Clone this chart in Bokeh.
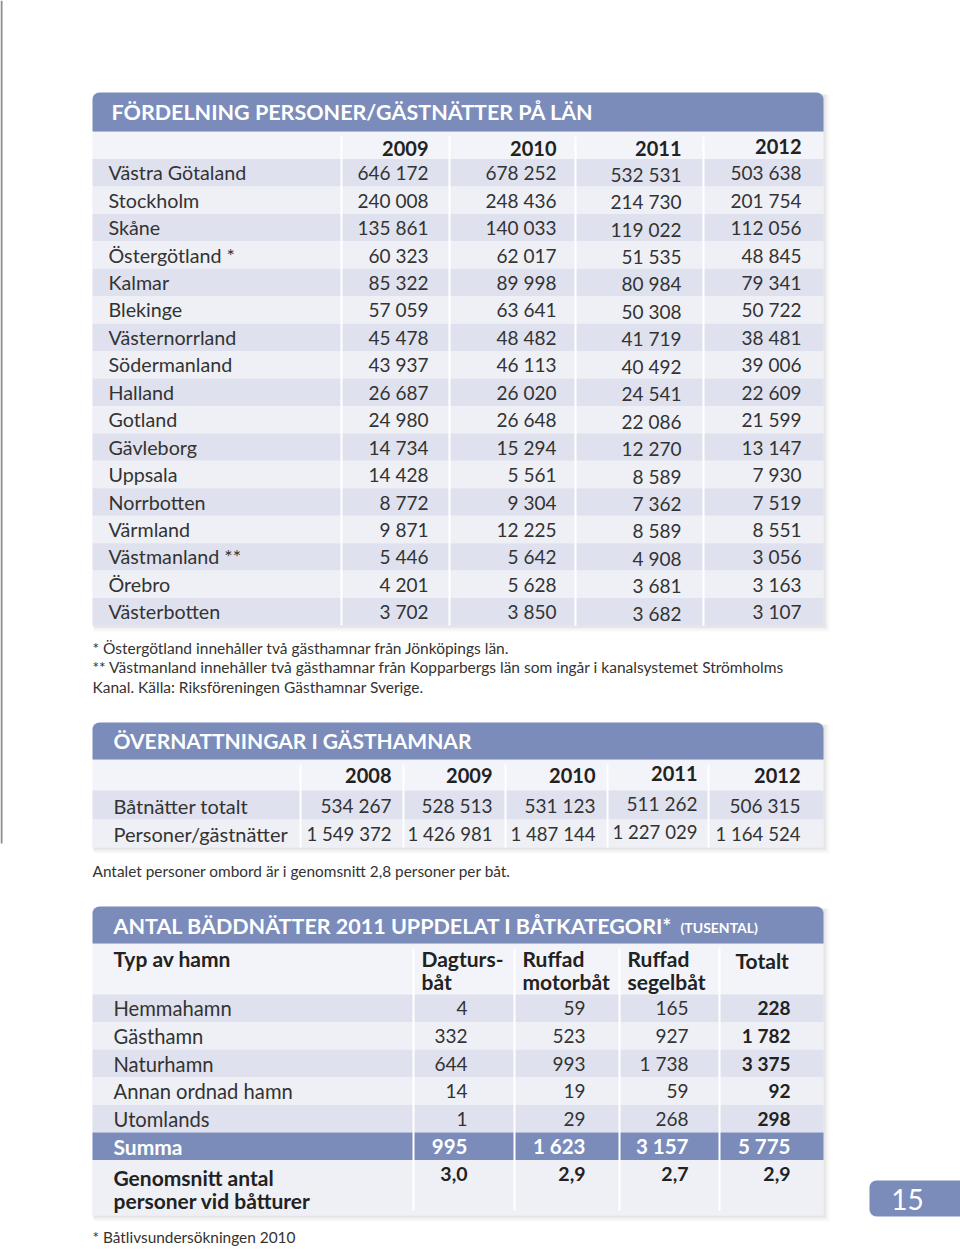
from bokeh.plotting import figure
from bokeh.models import Range1d
from bokeh.core.properties import value
from bokeh.embed import file_html
from bokeh.resources import INLINE

# ---------------- data ----------------
title1 = "FÖRDELNING PERSONER/GÄSTNÄTTER PÅ LÄN"
years1 = ["2009", "2010", "2011", "2012"]
regions = ["Västra Götaland", "Stockholm", "Skåne", "Östergötland *", "Kalmar", "Blekinge",
           "Västernorrland", "Södermanland", "Halland", "Gotland", "Gävleborg", "Uppsala",
           "Norrbotten", "Värmland", "Västmanland **", "Örebro", "Västerbotten"]
v2009 = [646172, 240008, 135861, 60323, 85322, 57059, 45478, 43937, 26687, 24980, 14734, 14428, 8772, 9871, 5446, 4201, 3702]
v2010 = [678252, 248436, 140033, 62017, 89998, 63641, 48482, 46113, 26020, 26648, 15294, 5561, 9304, 12225, 5642, 5628, 3850]
v2011 = [532531, 214730, 119022, 51535, 80984, 50308, 41719, 40492, 24541, 22086, 12270, 8589, 7362, 8589, 4908, 3681, 3682]
v2012 = [503638, 201754, 112056, 48845, 79341, 50722, 38481, 39006, 22609, 21599, 13147, 7930, 7519, 8551, 3056, 3163, 3107]
notes1 = ["* Östergötland innehåller två gästhamnar från Jönköpings län.",
          "** Västmanland innehåller två gästhamnar från Kopparbergs län som ingår i kanalsystemet Strömholms",
          "Kanal.  Källa: Riksföreningen Gästhamnar Sverige."]

title2 = "ÖVERNATTNINGAR I GÄSTHAMNAR"
years2 = ["2008", "2009", "2010", "2011", "2012"]
rows2 = ["Båtnätter totalt", "Personer/gästnätter"]
batnatter = [534267, 528513, 531123, 511262, 506315]
personer = [1549372, 1426981, 1487144, 1227029, 1164524]
note2 = "Antalet personer ombord är i genomsnitt 2,8 personer per båt."

title3 = "ANTAL BÄDDNÄTTER 2011 UPPDELAT I BÅTKATEGORI*"
title3_small = "(TUSENTAL)"
head3_first = "Typ av hamn"
head3 = [("Dagturs-", "båt"), ("Ruffad", "motorbåt"), ("Ruffad", "segelbåt"), ("Totalt", "")]
types3 = ["Hemmahamn", "Gästhamn", "Naturhamn", "Annan ordnad hamn", "Utomlands"]
dagtur = [4, 332, 644, 14, 1]
motor = [59, 523, 993, 19, 29]
segel = [165, 927, 1738, 59, 268]
totalt = [228, 1782, 3375, 92, 298]
summa_label = "Summa"
summa = [995, 1623, 3157, 5775]
snitt_label = ["Genomsnitt antal", "personer vid båtturer"]
snitt = ["3,0", "2,9", "2,7", "2,9"]
note3 = "* Båtlivsundersökningen 2010"
page_no = "15"

# ---------------- style ----------------
FONT = "Lato"
BLUE = "#7b8cbb"
DARK_ROW = "#dfe2ee"
LIGHT_ROW = "#eef0f6"
HEAD_ROW = "#f3f4f9"
TXT = "#333333"
BTXT = "#222222"


def fmt(v):
    return f"{v:,}".replace(",", " ")


W, H = 960, 1251
p = figure(width=W, height=H, x_range=Range1d(0, W), y_range=Range1d(H, 0),
           output_backend="svg", toolbar_location=None, min_border=0,
           x_axis_location=None, y_axis_location=None)
p.grid.visible = False
p.outline_line_color = None
p.background_fill_color = "white"
p.border_fill_color = "white"


def txt(xs, ys, texts, size, color=TXT, align="left", bold=False, baseline="middle"):
    p.text(x=xs, y=ys, text=texts, text_font=value(FONT), text_font_size=value(f"{size}px"),
           text_font_style="bold" if bold else "normal", text_align=align,
           text_baseline=baseline, text_color=color)


def shadow(l, r, t, b):
    for d, a in [(6, 0.025), (4, 0.035), (2, 0.05)]:
        p.quad(left=l + 1, right=r + d, top=t + 2, bottom=b + d, fill_color="black",
               fill_alpha=a, line_color=None)


def panel(l, r, band_t, band_b, body_b):
    shadow(l, r, band_t, body_b)
    p.quad(left=l, right=r, top=band_b, bottom=body_b, fill_color=HEAD_ROW, line_color=None)
    p.quad(left=l, right=r, top=band_t, bottom=band_b, fill_color=BLUE, line_color=None,
           border_radius=(7, 7, 0, 0))


# scanned page edge on the left
p.segment(x0=[1], x1=[1], y0=[0], y1=[843], line_color="#8d8d86", line_width=2)

L, R = 92, 823

# ---------------- table 1 ----------------
panel(L, R, 92, 131, 625)
rh1, top1 = 27.44, 158.5
tops = [top1 + i * rh1 for i in range(len(regions))]
p.quad(left=[L] * len(tops), right=[R] * len(tops), top=tops, bottom=[t + rh1 for t in tops],
       fill_color=[DARK_ROW if i % 2 == 0 else LIGHT_ROW for i in range(len(tops))], line_color=None)
seps1 = [341, 449, 575, 703]
p.segment(x0=seps1, x1=seps1, y0=[136] * 4, y1=[625] * 4, line_color="white", line_width=2)
txt([111], [111], [title1], 21.5, color="white", bold=True)
rights1 = [428, 556, 681, 801]
txt(rights1, [148, 148, 148, 146], years1, 20, color=BTXT, align="right", bold=True)
centers1 = [t + rh1 / 2 for t in tops]
txt([108] * len(regions), centers1, regions, 19.7)
for k, (col, dy) in enumerate(zip([v2009, v2010, v2011, v2012], [0, 0, 1.5, 0])):
    txt([rights1[k]] * len(col), [c + dy for c in centers1], [fmt(v) for v in col], 19, align="right")
txt([92] * 3, [647, 666, 686], notes1, 15.5)

# ---------------- table 2 ----------------
panel(L, R, 722, 759, 847)
p.quad(left=[L, L], right=[R, R], top=[790, 819], bottom=[819, 847],
       fill_color=[DARK_ROW, LIGHT_ROW], line_color=None)
seps2 = [300, 403, 505, 607, 708]
p.segment(x0=seps2, x1=seps2, y0=[764] * 5, y1=[847] * 5, line_color="white", line_width=2)
txt([113], [740], [title2], 21, color="white", bold=True)
rights2 = [391, 492, 595, 697, 800]
dy2 = [0, 0, 0, -2, 0]
txt(rights2, [775 + d for d in dy2], years2, 20, color=BTXT, align="right", bold=True)
txt([113, 113], [805, 833], rows2, 20)
txt(rights2, [805 + d for d in dy2], [fmt(v) for v in batnatter], 19, align="right")
txt(rights2, [833 + d for d in dy2], [fmt(v) for v in personer], 18.6, align="right")
txt([92], [870], [note2], 15.4)

# ---------------- table 3 ----------------
panel(L, R, 906, 943, 1215)
rh3, top3 = 27.6, 994
tops3 = [top3 + i * rh3 for i in range(len(types3))]
p.quad(left=[L] * 5, right=[R] * 5, top=tops3, bottom=[t + rh3 for t in tops3],
       fill_color=[DARK_ROW if i % 2 == 0 else LIGHT_ROW for i in range(5)], line_color=None)
sum_top = top3 + 5 * rh3
p.quad(left=[L], right=[R], top=[sum_top], bottom=[sum_top + rh3], fill_color=BLUE, line_color=None)
p.quad(left=[L], right=[R], top=[sum_top + rh3], bottom=[1215], fill_color=LIGHT_ROW, line_color=None)
seps3 = [413, 514, 619, 719]
p.segment(x0=seps3, x1=seps3, y0=[948] * 4, y1=[1210] * 4, line_color="white", line_width=2)
txt([113], [925], [title3], 21.5, color="white", bold=True)
txt([680], [927], [title3_small], 14, color="white", bold=True)
txt([113], [958], [head3_first], 21, color=BTXT, bold=True)
hx = [421, 522, 627, 735]
txt(hx, [958, 958, 958, 960], [h[0] for h in head3], 21, color=BTXT, bold=True)
txt(hx, [981] * 4, [h[1] for h in head3], 21, color=BTXT, bold=True)
centers3 = [t + rh3 / 2 for t in tops3]
txt([113] * 5, centers3, types3, 20.2)
rights3 = [467, 585, 688, 790]
for k, col in enumerate([dagtur, motor, segel]):
    txt([rights3[k]] * 5, centers3, [fmt(v) for v in col], 19, align="right")
txt([rights3[3]] * 5, centers3, [fmt(v) for v in totalt], 19, color=BTXT, align="right", bold=True)
sc = sum_top + rh3 / 2
txt([113], [sc], [summa_label], 21, color="white", bold=True)
txt(rights3, [sc] * 4, [fmt(v) for v in summa], 20.5, color="white", align="right", bold=True)
txt([113, 113], [1177, 1200], snitt_label, 21, color=BTXT, bold=True)
txt(rights3, [1173] * 4, snitt, 19.5, color=BTXT, align="right", bold=True)
txt([92], [1236], [note3], 15.4)

# ---------------- page number ----------------
p.quad(left=[869], right=[962], top=[1180], bottom=[1216], fill_color=BLUE, line_color=None,
       border_radius=(7, 0, 0, 7))
txt([907], [1199], [page_no], 28, color="white", align="center")

open("out.html", "w").write(file_html(p, INLINE))
